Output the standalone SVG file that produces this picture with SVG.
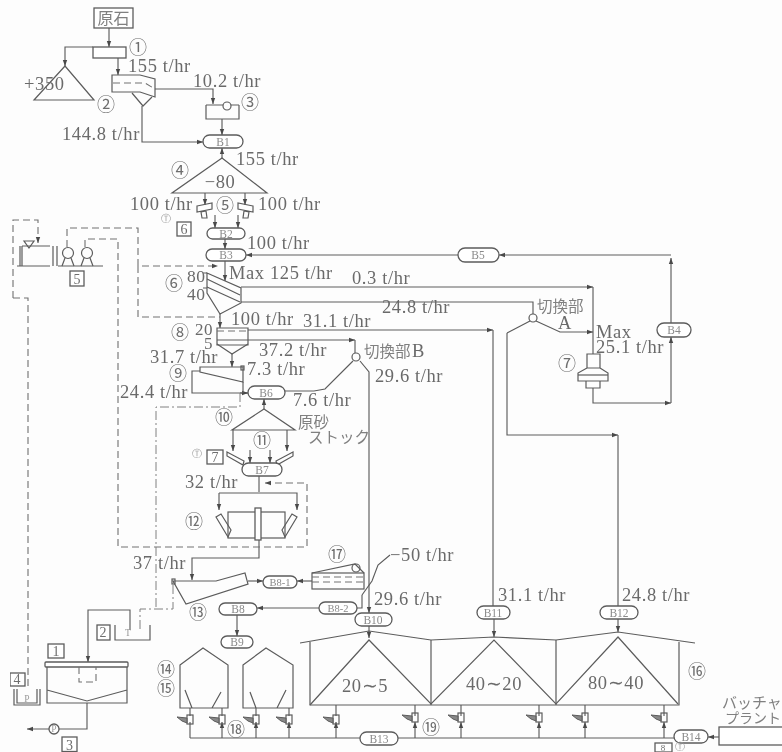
<svg xmlns="http://www.w3.org/2000/svg" width="782" height="752" viewBox="0 0 782 752">
<style>
.l{fill:none;stroke:#5c5c5c;stroke-width:1.15}
.n{fill:none;stroke:#5c5c5c;stroke-width:1.2}
.d{fill:none;stroke:#707070;stroke-width:1.1;stroke-dasharray:7 4}
.dd{fill:none;stroke:#808080;stroke-width:1;stroke-dasharray:9 3 2 3}
.b{fill:#fff;stroke:#5c5c5c;stroke-width:1.3}
text{font-family:"Liberation Serif",serif;font-size:18.5px;letter-spacing:.6px;fill:#6a6a6a}
.c{font-family:"Noto Sans CJK JP",sans-serif;font-size:18px;letter-spacing:0;text-anchor:middle;fill:#6e6e6e}
.s{font-size:9.5px;letter-spacing:0;text-anchor:middle;fill:#999}
.j{font-family:"Noto Sans CJK JP",sans-serif;font-size:15.500px;letter-spacing:0;fill:#808080}
.m{text-anchor:middle}
.k{font-size:11.500px;letter-spacing:0;text-anchor:middle;fill:#8a8a8a}
.q{font-size:14px;letter-spacing:0;text-anchor:middle;fill:#6e6e6e}
</style>
<defs>
<marker id="a" markerUnits="userSpaceOnUse" markerWidth="7" markerHeight="6" refX="6" refY="3" orient="auto"><path d="M0 .8L6 3L0 5.200z" fill="#4a4a4a"/></marker>
<filter id="soft" x="0" y="0" width="100%" height="100%"><feGaussianBlur stdDeviation="0.5"/></filter>
<g id="fd"><rect x="-3" y="-6" width="6" height="9" class="n"/><path d="M-13 -4L-3 -3V2L-8 0Z" fill="#888" stroke="#5c5c5c"/></g>
</defs>
<rect width="782" height="752" fill="#fdfdfd"/>
<g filter="url(#soft)">
<g id="connectors">
<path class="l" marker-end="url(#a)" d="M109 28V47"/>
<path class="l" marker-end="url(#a)" d="M93 47H65V66"/>
<path class="l" marker-end="url(#a)" d="M118 58V75"/>
<path class="l" marker-end="url(#a)" d="M155 89H213V104"/>
<path class="l" marker-end="url(#a)" d="M142 106V142H203"/>
<path class="l" marker-end="url(#a)" d="M222 119V135"/>
<path class="l" marker-end="url(#a)" d="M222 158V148"/>
<path class="l" marker-end="url(#a)" d="M205 193V205"/>
<path class="l" marker-end="url(#a)" d="M245 193V205"/>
<path class="l" marker-end="url(#a)" d="M215 215V228"/>
<path class="l" marker-end="url(#a)" d="M238 215V228"/>
<path class="l" marker-end="url(#a)" d="M225 239V249"/>
<path class="l" marker-end="url(#a)" d="M458 255H246"/>
<path class="l" marker-end="url(#a)" d="M671 255H499"/>
<path class="l" marker-end="url(#a)" d="M671 323V258"/>
<path class="l" marker-end="url(#a)" d="M671 403V337"/>
<path class="l" marker-end="url(#a)" d="M593 388V403H671"/>
<path class="l" marker-end="url(#a)" d="M225 261V281"/>
<path class="l" marker-end="url(#a)" d="M241 287H593"/>
<path class="l" d="M593 287V354"/>
<path class="l" d="M241 302H533V314"/>
<path class="l" d="M530 321L507 333"/>
<path class="l" marker-end="url(#a)" d="M536 321L560 332H593"/>
<path class="l" marker-end="url(#a)" d="M507 333V435H618"/>
<path class="l" d="M618 435V606"/>
<path class="l" marker-end="url(#a)" d="M220 314V328"/>
<path class="l" marker-end="url(#a)" d="M248 330H493"/>
<path class="l" d="M493 330V606"/>
<path class="l" marker-end="url(#a)" d="M248 340H355"/>
<path class="l" d="M355 340V353"/>
<path class="l" d="M353 361L325 389L314 391H285"/>
<path class="l" marker-end="url(#a)" d="M360 361L369 372V613"/>
<path class="l" marker-end="url(#a)" d="M232 354V367"/>
<path class="l" d="M200 371H192V393H248"/>
<path class="l" marker-end="url(#a)" d="M240 393H248"/>
<path class="l" d="M243 382V393"/>
<path class="l" marker-end="url(#a)" d="M264 409V399"/>
<path class="l" marker-end="url(#a)" d="M233 430V451"/>
<path class="l" marker-end="url(#a)" d="M287 430V451"/>
<path class="l" marker-end="url(#a)" d="M250 450V463"/>
<path class="l" marker-end="url(#a)" d="M270 450V463"/>
<path class="l" d="M259 476V492"/>
<path class="l" marker-end="url(#a)" d="M219 493H297V510"/>
<path class="l" marker-end="url(#a)" d="M219 493V510"/>
<path class="l" marker-end="url(#a)" d="M259 540V558H192V580"/>
<path class="l" marker-end="url(#a)" d="M248 581H263"/>
<path class="l" marker-end="url(#a)" d="M312 581H297"/>
<path class="l" marker-end="url(#a)" d="M319 608H257"/>
<path class="l" d="M357 608H362V595"/>
<path class="l" marker-end="url(#a)" d="M237 614V636"/>
<path class="l" marker-end="url(#a)" d="M369 625V638"/>
<path class="l" marker-end="url(#a)" d="M494 619V637"/>
<path class="l" marker-end="url(#a)" d="M618 619V632"/>
<path class="l" marker-end="url(#a)" d="M87 703V729H27"/>
<path class="l" marker-end="url(#a)" d="M130 630V610H88V662"/>
<path class="l" marker-end="url(#a)" d="M719 737H708"/>
<path class="l" d="M190 738H360M398 738H674M190 738V722"/>
<path class="l" marker-end="url(#a)" d="M222 738V722"/>
<path class="l" marker-end="url(#a)" d="M256 738V722"/>
<path class="l" marker-end="url(#a)" d="M289 738V722"/>
<path class="l" marker-end="url(#a)" d="M336 738V722"/>
<path class="l" marker-end="url(#a)" d="M415 738V722"/>
<path class="l" marker-end="url(#a)" d="M461 738V722"/>
<path class="l" marker-end="url(#a)" d="M539 738V722"/>
<path class="l" marker-end="url(#a)" d="M585 738V722"/>
<path class="l" marker-end="url(#a)" d="M664 738V722"/>
<path class="l" d="M190 708V716M222 708V716M256 708V716M289 708V716M336 705V716M415 705V716M461 705V716M539 705V716M585 705V716M664 705V716"/>
<path class="d" marker-end="url(#a)" d="M13 298V220H38V243"/>
<path class="d" d="M13 298H28V690"/>
<path class="d" marker-end="url(#a)" d="M67 247V228H138V266H218"/>
<path class="d" d="M138 266V317H220"/>
<path class="d" marker-end="url(#a)" d="M85 247V239H118V547H307V483H265"/>
<path class="dd" d="M240 393V407H156V609"/>
<path class="dd" d="M173 585V609H140V632"/>
<path class="l" d="M362 595L372 581L378 565L390 555"/>
</g>
<g id="source"><rect class="b" x="94" y="8" width="39" height="20"/><text class="j" x="113.500" y="24" text-anchor="middle" style="font-size:16px">原石</text></g>
<g id="n1"><rect class="b" x="93" y="47" width="33" height="11"/><text class="c" x="138" y="54">①</text></g>
<g id="n2"><path class="n" d="M65 66L94 100H34Z"/><text x="24" y="90">+350</text><text class="c" x="106" y="111">②</text></g>
<g id="screen1"><path class="n" d="M112 75H140L155 79V97L140 92H112Z"/><path class="d" d="M113 83H145L155 89"/><path class="n" d="M132 93L143 106L152 97"/></g>
<g id="n3"><path class="n" d="M206 105V119H239V105M206 105H223M231 105H239"/><circle class="n" cx="227" cy="106" r="4"/><text class="c" x="250" y="109">③</text></g>
<g id="B1"><rect class="b" x="203" y="135" width="40" height="13" rx="6.500"/><text class="k" x="223" y="146">B1</text></g>
<g id="n4"><path class="n" d="M222 158L267 193H172Z"/><text class="m" x="220" y="188">−80</text><text class="c" x="180" y="177">④</text></g>
<g id="n5"><path class="n" d="M197 206L212 203V209L197 212ZM201 212L206 211L207 218L202 218Z"/><path class="n" d="M253 206L238 203V209L253 212ZM249 212L244 211L243 218L248 218Z"/><text class="c" x="225" y="212">⑤</text></g>
<g id="box6"><text class="s" x="166" y="222">Ⓣ</text><rect class="b" x="177" y="222" width="14" height="14"/><text class="q" x="184" y="234">6</text></g>
<g id="B2"><rect class="b" x="207" y="228" width="38" height="11" rx="5.500"/><text class="k" x="226" y="238">B2</text></g>
<g id="B3"><rect class="b" x="206" y="249" width="40" height="12" rx="6"/><text class="k" x="226" y="259">B3</text></g>
<g id="B5"><rect class="b" x="458" y="248" width="41" height="14" rx="7"/><text class="k" x="478" y="259">B5</text></g>
<g id="B4"><rect class="b" x="657" y="323" width="34" height="14" rx="7"/><text class="k" x="674" y="334">B4</text></g>
<g id="n5b"><path class="n" d="M20 246V266M22 246V266M22 246H50M53 246V266M57 246V266M17 266H50M58 266H103"/><path class="n" d="M24 241H34L29 248Z"/><circle class="n" cx="68" cy="253" r="5.500"/><circle class="n" cx="87" cy="253" r="5.500"/><path class="n" d="M62 266L65 258M74 266L71 258M81 266L84 258M93 266L90 258"/><rect class="b" x="70" y="271" width="14" height="15"/><text class="q" x="77" y="284">5</text></g>
<g id="n6"><path class="n" d="M207 273L241 288V303L220 314L207 293Z"/><path class="n" d="M207 279L240 295M207 287L240 302"/><path class="n" d="M203 273H207M203 288H207"/><text x="187" y="282" style="font-size:17.500px">80</text><text x="187" y="300" style="font-size:17.500px">40</text><text class="c" x="174" y="290">⑥</text></g>
<g id="n7"><path class="n" d="M587 354H600V368H587ZM587 368L578 373V381H608V373L600 368M586 381H600V388H586Z"/><path class="n" d="M578 375H608"/><text class="c" x="567" y="370">⑦</text></g>
<g id="n8"><path class="n" d="M217 328H248V345H217Z"/><path class="n" d="M217 340H248M217 344L232 354L248 344"/><path class="d" d="M217 331H248"/><text x="195" y="335" style="font-size:17px">20</text><text x="204" y="349" style="font-size:17px">5</text><text class="c" x="180" y="339">⑧</text></g>
<g id="switchB"><circle class="n" cx="356" cy="357" r="4"/></g>
<g id="switchA"><circle class="n" cx="533" cy="318" r="4"/></g>
<g id="n9"><path class="n" d="M200 367H243V382L200 372Z"/><rect class="n" x="241" y="366" width="3" height="4"/><text class="c" x="178" y="380">⑨</text></g>
<g id="B6"><rect class="b" x="248" y="386" width="37" height="13" rx="6.500"/><text class="k" x="266" y="397">B6</text></g>
<g id="n10"><path class="n" d="M264 409L295 430H232Z"/><text class="c" x="224" y="424">⑩</text></g>
<g id="n11"><text class="c" x="262" y="447">⑪</text><path class="n" d="M227 452L244 461L243 465L227 456ZM293 452L276 461L277 465L293 456Z"/></g>
<g id="box7"><text class="s" x="197" y="457">Ⓣ</text><rect class="b" x="207" y="450" width="16" height="14"/><text class="q" x="215" y="462">7</text></g>
<g id="B7"><rect class="b" x="242" y="463" width="40" height="13" rx="6.500"/><text class="k" x="262" y="474">B7</text></g>
<g id="n12"><rect class="n" x="228" y="512" width="57" height="26"/><rect class="b" x="255" y="508" width="6" height="32"/><path class="n" d="M216 517L228 537L231 530L221 514ZM297 517L285 537L282 530L292 514Z"/><text class="c" x="194" y="528">⑫</text></g>
<g id="n13"><path class="n" d="M173 581H216L245 573L248 584L186 604L173 581Z"/><rect class="n" x="172" y="579" width="3" height="5"/><text class="c" x="198" y="619">⑬</text></g>
<g id="B81"><rect class="b" x="263" y="576" width="34" height="12" rx="6"/><text class="k" x="280" y="586" style="font-size:10.500px">B8-1</text></g>
<g id="n17"><rect class="n" x="312" y="573" width="52" height="16"/><path class="d" d="M312 577H364M312 582H364"/><path class="n" d="M312 573L355 564L364 573"/><circle class="n" cx="356" cy="568" r="4"/><text class="c" x="337" y="561">⑰</text></g>
<g id="B82"><rect class="b" x="319" y="602" width="38" height="12" rx="6"/><text class="k" x="338" y="612" style="font-size:10.500px">B8-2</text></g>
<g id="B8"><rect class="b" x="219" y="603" width="38" height="12" rx="6"/><text class="k" x="238" y="613">B8</text></g>
<g id="B9"><rect class="b" x="221" y="636" width="32" height="12" rx="6"/><text class="k" x="237" y="646">B9</text></g>
<g id="B10"><rect class="b" x="355" y="613" width="37" height="13" rx="6.500"/><text class="k" x="373" y="624">B10</text></g>
<g id="B11"><rect class="b" x="477" y="606" width="33" height="13" rx="6.500"/><text class="k" x="493" y="617">B11</text></g>
<g id="B12"><rect class="b" x="600" y="606" width="38" height="13" rx="6.500"/><text class="k" x="619" y="617">B12</text></g>
<g id="B13"><rect class="b" x="360" y="732" width="38" height="13" rx="6.500"/><text class="k" x="379" y="743">B13</text></g>
<g id="B14"><rect class="b" x="674" y="730" width="34" height="13" rx="6.500"/><text class="k" x="691" y="741">B14</text></g>
<g id="tank1"><rect class="b" x="45" y="662" width="83" height="5" rx="1"/><path class="n" d="M47 667V703H127V667M47 690L87 701L127 690"/><path class="d" d="M79 667V682H96V667"/><rect class="b" x="48" y="644" width="16" height="14"/><text class="q" x="56" y="656">1</text></g>
<g id="pumpP3"><circle class="b" cx="54" cy="729" r="5"/><text class="s" x="54" y="732">P</text><rect class="b" x="62" y="737" width="15" height="14.500"/><text class="q" x="69.500" y="750">3</text></g>
<g id="tankT"><path class="n" d="M115 625V640H150V625"/><text class="s" x="128" y="636">T</text><rect class="b" x="97" y="625" width="13" height="15"/><text class="q" x="103" y="637">2</text></g>
<g id="tankP"><path class="n" d="M14 689V705H40V689M17 689V703H37V689"/><text class="s" x="27" y="702">P</text><rect class="b" x="10" y="673" width="15" height="13"/><text class="q" x="17" y="684">4</text></g>
<g id="bin14"><path class="n" d="M180 665L203 648L228 665V708H180ZM185 690L192 708M221 692L212 708"/><text class="c" x="166" y="676">⑭</text><text class="c" x="166" y="695">⑮</text></g>
<g id="bin15"><path class="n" d="M243 665L266 648L293 665V708H243ZM250 692L256 708M286 690L277 708"/></g>
<g id="silo"><path class="n" d="M300 643L369 631L431 640L494 637L556 640L618 632L695 643"/><path class="n" d="M310 642V705H679V642M431 640V705M556 640V705"/><path class="n" d="M310 705L369 640L431 704L494 640L556 704L618 637L678 704"/><text class="m" x="365" y="692">20∼5</text><text class="m" x="494" y="690">40∼20</text><text class="m" x="616" y="689">80∼40</text><text class="c" x="697" y="678">⑯</text></g>
<g id="feeders">
<use href="#fd" x="190" y="721"/><use href="#fd" x="222" y="721"/><use href="#fd" x="256" y="721"/><use href="#fd" x="289" y="721"/><use href="#fd" x="336" y="721"/><use href="#fd" x="415" y="719"/><use href="#fd" x="461" y="719"/><use href="#fd" x="539" y="719"/><use href="#fd" x="585" y="719"/><use href="#fd" x="664" y="719"/>
<text class="c" x="236" y="736">⑱</text><text class="c" x="431" y="734">⑲</text></g>
<g id="plant"><rect class="b" x="719" y="727" width="70" height="18"/><text class="j" x="722" y="708" style="font-size:15px">バッチャ</text><text class="j" x="725" y="723" style="font-size:14px">プラント</text></g>
<g id="box8"><rect class="b" x="655" y="743" width="17" height="9"/><text class="q" x="663" y="751" style="font-size:9px">8</text><text class="s" x="680" y="750">Ⓣ</text></g>
<g id="labels">
<text x="128" y="72">155 t/hr</text>
<text x="193" y="87">10.2 t/hr</text>
<text x="62" y="140">144.8 t/hr</text>
<text x="236" y="165">155 t/hr</text>
<text x="130" y="210">100 t/hr</text>
<text x="258" y="210">100 t/hr</text>
<text x="247" y="249">100 t/hr</text>
<text x="229" y="279">Max 125 t/hr</text>
<text x="352" y="284">0.3 t/hr</text>
<text x="231" y="325">100 t/hr</text>
<text x="303" y="327">31.1 t/hr</text>
<text x="382" y="313">24.8 t/hr</text>
<text class="j" x="537" y="312">切換部</text>
<text x="558" y="329">A</text>
<text x="596" y="338">Max</text>
<text x="596" y="353">25.1 t/hr</text>
<text x="259" y="356">37.2 t/hr</text>
<text class="j" x="364" y="357">切換部</text><text x="412" y="357">B</text>
<text x="375" y="382">29.6 t/hr</text>
<text x="150" y="363">31.7 t/hr</text>
<text x="247" y="375">7.3 t/hr</text>
<text x="120" y="398">24.4 t/hr</text>
<text x="293" y="406">7.6 t/hr</text>
<text class="j" x="298" y="428">原砂</text>
<text class="j" x="308" y="443">ストック</text>
<text x="185" y="488">32 t/hr</text>
<text x="133" y="569">37 t/hr</text>
<text x="390" y="561">−50 t/hr</text>
<text x="374" y="605">29.6 t/hr</text>
<text x="498" y="601">31.1 t/hr</text>
<text x="622" y="601">24.8 t/hr</text>
</g>
</g>
</svg>
